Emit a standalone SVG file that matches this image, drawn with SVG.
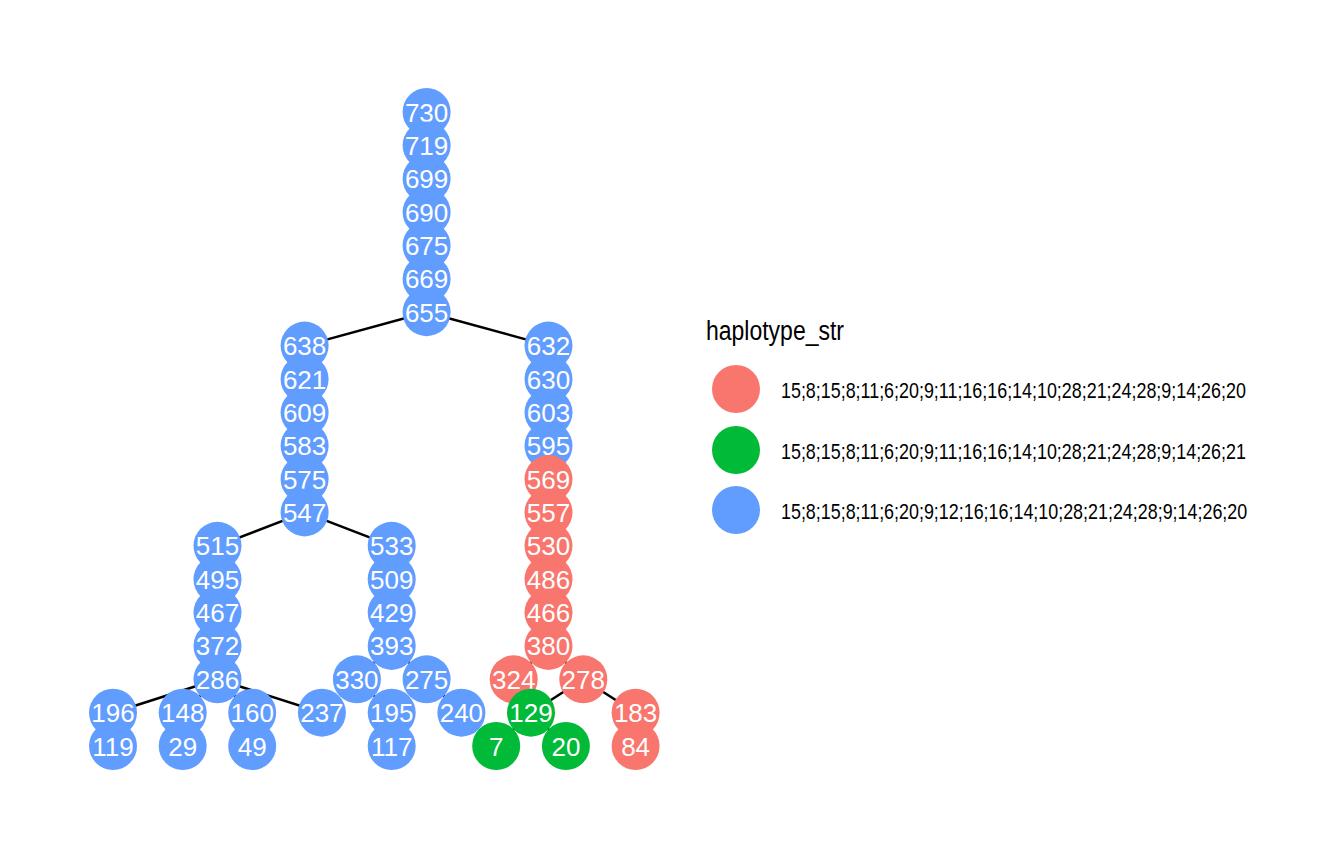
<svg xmlns="http://www.w3.org/2000/svg" width="1344" height="865" viewBox="0 0 1344 865">
<style>
.n{stroke:none}
.b{fill:#619CFF}.r{fill:#F8766D}.g{fill:#00BA38}
.t{fill:#FFFFFF;font-family:"Liberation Sans",Arial,sans-serif;font-size:26px;text-anchor:middle}
.e line{stroke:#000;stroke-width:2.5}
.lg{font-family:"Liberation Sans Narrow","Liberation Sans",Arial,sans-serif;fill:#000}
.li{font-family:"Liberation Sans",Arial,sans-serif;fill:#000;font-size:17.9px}
</style>
<rect width="1344" height="865" fill="#FFFFFF"/>
<g id="connectors" class="e">
<line x1="426.6" y1="112" x2="426.6" y2="312.2"/>
<line x1="426.6" y1="312.2" x2="304.6" y2="345.6"/>
<line x1="426.6" y1="312.2" x2="548.5" y2="345.6"/>
<line x1="304.6" y1="345.6" x2="304.6" y2="512.4"/>
<line x1="304.6" y1="512.4" x2="217.5" y2="545.8"/>
<line x1="304.6" y1="512.4" x2="391.7" y2="545.8"/>
<line x1="217.5" y1="545.8" x2="217.5" y2="679.3"/>
<line x1="217.5" y1="679.3" x2="113" y2="712.7"/>
<line x1="217.5" y1="679.3" x2="182.7" y2="712.7"/>
<line x1="217.5" y1="679.3" x2="252.2" y2="712.7"/>
<line x1="217.5" y1="679.3" x2="321.9" y2="712.7"/>
<line x1="113" y1="712.7" x2="113" y2="746"/>
<line x1="182.7" y1="712.7" x2="182.7" y2="746"/>
<line x1="252.2" y1="712.7" x2="252.2" y2="746"/>
<line x1="391.7" y1="545.8" x2="391.7" y2="645.9"/>
<line x1="391.7" y1="645.9" x2="356.9" y2="679.3"/>
<line x1="391.7" y1="645.9" x2="426.6" y2="679.3"/>
<line x1="356.9" y1="679.3" x2="391.7" y2="712.7"/>
<line x1="391.7" y1="712.7" x2="391.7" y2="746"/>
<line x1="426.6" y1="679.3" x2="461.4" y2="712.7"/>
<line x1="548.5" y1="345.6" x2="548.5" y2="645.9"/>
<line x1="548.5" y1="645.9" x2="513.7" y2="679.3"/>
<line x1="548.5" y1="645.9" x2="583.3" y2="679.3"/>
<line x1="583.3" y1="679.3" x2="531" y2="712.7"/>
<line x1="583.3" y1="679.3" x2="635.6" y2="712.7"/>
<line x1="635.6" y1="712.7" x2="635.6" y2="746"/>
<line x1="531" y1="712.7" x2="496.2" y2="746"/>
<line x1="531" y1="712.7" x2="565.9" y2="746"/>
</g>
<g id="n730"><circle class="n b" cx="426.6" cy="112" r="24"/><text class="t" x="426.6" y="121.5">730</text></g>
<g id="n719"><circle class="n b" cx="426.6" cy="145.4" r="24"/><text class="t" x="426.6" y="154.9">719</text></g>
<g id="n699"><circle class="n b" cx="426.6" cy="178.7" r="24"/><text class="t" x="426.6" y="188.2">699</text></g>
<g id="n690"><circle class="n b" cx="426.6" cy="212.1" r="24"/><text class="t" x="426.6" y="221.6">690</text></g>
<g id="n675"><circle class="n b" cx="426.6" cy="245.5" r="24"/><text class="t" x="426.6" y="255">675</text></g>
<g id="n669"><circle class="n b" cx="426.6" cy="278.9" r="24"/><text class="t" x="426.6" y="288.4">669</text></g>
<g id="n655"><circle class="n b" cx="426.6" cy="312.2" r="24"/><text class="t" x="426.6" y="321.7">655</text></g>
<g id="n638"><circle class="n b" cx="304.6" cy="345.6" r="24"/><text class="t" x="304.6" y="355.1">638</text></g>
<g id="n621"><circle class="n b" cx="304.6" cy="379" r="24"/><text class="t" x="304.6" y="388.5">621</text></g>
<g id="n609"><circle class="n b" cx="304.6" cy="412.4" r="24"/><text class="t" x="304.6" y="421.9">609</text></g>
<g id="n583"><circle class="n b" cx="304.6" cy="445.7" r="24"/><text class="t" x="304.6" y="455.2">583</text></g>
<g id="n575"><circle class="n b" cx="304.6" cy="479.1" r="24"/><text class="t" x="304.6" y="488.6">575</text></g>
<g id="n547"><circle class="n b" cx="304.6" cy="512.4" r="24"/><text class="t" x="304.6" y="521.9">547</text></g>
<g id="n632"><circle class="n b" cx="548.5" cy="345.6" r="24"/><text class="t" x="548.5" y="355.1">632</text></g>
<g id="n630"><circle class="n b" cx="548.5" cy="379" r="24"/><text class="t" x="548.5" y="388.5">630</text></g>
<g id="n603"><circle class="n b" cx="548.5" cy="412.4" r="24"/><text class="t" x="548.5" y="421.9">603</text></g>
<g id="n595"><circle class="n b" cx="548.5" cy="445.7" r="24"/><text class="t" x="548.5" y="455.2">595</text></g>
<g id="n569"><circle class="n r" cx="548.5" cy="479.1" r="24"/><text class="t" x="548.5" y="488.6">569</text></g>
<g id="n557"><circle class="n r" cx="548.5" cy="512.4" r="24"/><text class="t" x="548.5" y="521.9">557</text></g>
<g id="n515"><circle class="n b" cx="217.5" cy="545.8" r="24"/><text class="t" x="217.5" y="555.3">515</text></g>
<g id="n533"><circle class="n b" cx="391.7" cy="545.8" r="24"/><text class="t" x="391.7" y="555.3">533</text></g>
<g id="n530"><circle class="n r" cx="548.5" cy="545.8" r="24"/><text class="t" x="548.5" y="555.3">530</text></g>
<g id="n495"><circle class="n b" cx="217.5" cy="579.2" r="24"/><text class="t" x="217.5" y="588.7">495</text></g>
<g id="n509"><circle class="n b" cx="391.7" cy="579.2" r="24"/><text class="t" x="391.7" y="588.7">509</text></g>
<g id="n486"><circle class="n r" cx="548.5" cy="579.2" r="24"/><text class="t" x="548.5" y="588.7">486</text></g>
<g id="n467"><circle class="n b" cx="217.5" cy="612.5" r="24"/><text class="t" x="217.5" y="622">467</text></g>
<g id="n429"><circle class="n b" cx="391.7" cy="612.5" r="24"/><text class="t" x="391.7" y="622">429</text></g>
<g id="n466"><circle class="n r" cx="548.5" cy="612.5" r="24"/><text class="t" x="548.5" y="622">466</text></g>
<g id="n372"><circle class="n b" cx="217.5" cy="645.9" r="24"/><text class="t" x="217.5" y="655.4">372</text></g>
<g id="n393"><circle class="n b" cx="391.7" cy="645.9" r="24"/><text class="t" x="391.7" y="655.4">393</text></g>
<g id="n380"><circle class="n r" cx="548.5" cy="645.9" r="24"/><text class="t" x="548.5" y="655.4">380</text></g>
<g id="n286"><circle class="n b" cx="217.5" cy="679.3" r="24"/><text class="t" x="217.5" y="688.8">286</text></g>
<g id="n330"><circle class="n b" cx="356.9" cy="679.3" r="24"/><text class="t" x="356.9" y="688.8">330</text></g>
<g id="n275"><circle class="n b" cx="426.6" cy="679.3" r="24"/><text class="t" x="426.6" y="688.8">275</text></g>
<g id="n324"><circle class="n r" cx="513.7" cy="679.3" r="24"/><text class="t" x="513.7" y="688.8">324</text></g>
<g id="n278"><circle class="n r" cx="583.3" cy="679.3" r="24"/><text class="t" x="583.3" y="688.8">278</text></g>
<g id="n196"><circle class="n b" cx="113" cy="712.7" r="24"/><text class="t" x="113" y="722.2">196</text></g>
<g id="n148"><circle class="n b" cx="182.7" cy="712.7" r="24"/><text class="t" x="182.7" y="722.2">148</text></g>
<g id="n160"><circle class="n b" cx="252.2" cy="712.7" r="24"/><text class="t" x="252.2" y="722.2">160</text></g>
<g id="n237"><circle class="n b" cx="321.9" cy="712.7" r="24"/><text class="t" x="321.9" y="722.2">237</text></g>
<g id="n195"><circle class="n b" cx="391.7" cy="712.7" r="24"/><text class="t" x="391.7" y="722.2">195</text></g>
<g id="n240"><circle class="n b" cx="461.4" cy="712.7" r="24"/><text class="t" x="461.4" y="722.2">240</text></g>
<g id="n183"><circle class="n r" cx="635.6" cy="712.7" r="24"/><text class="t" x="635.6" y="722.2">183</text></g>
<g id="n119"><circle class="n b" cx="113" cy="746" r="24"/><text class="t" x="113" y="755.5">119</text></g>
<g id="n29"><circle class="n b" cx="182.7" cy="746" r="24"/><text class="t" x="182.7" y="755.5">29</text></g>
<g id="n49"><circle class="n b" cx="252.2" cy="746" r="24"/><text class="t" x="252.2" y="755.5">49</text></g>
<g id="n117"><circle class="n b" cx="391.7" cy="746" r="24"/><text class="t" x="391.7" y="755.5">117</text></g>
<g id="n84"><circle class="n r" cx="635.6" cy="746" r="24"/><text class="t" x="635.6" y="755.5">84</text></g>
<g id="n129"><circle class="n g" cx="531" cy="712.7" r="24"/><text class="t" x="531" y="722.2">129</text></g>
<g id="n7"><circle class="n g" cx="496.2" cy="746" r="24"/><text class="t" x="496.2" y="755.5">7</text></g>
<g id="n20"><circle class="n g" cx="565.9" cy="746" r="24"/><text class="t" x="565.9" y="755.5">20</text></g>
<g id="legend">
<text class="lg" x="706" y="340" font-size="27" textLength="138" lengthAdjust="spacingAndGlyphs">haplotype_str</text>
<circle class="r" cx="736" cy="389" r="24"/>
<circle class="g" cx="736" cy="450" r="24"/>
<circle class="b" cx="736" cy="510" r="24"/>
<text class="li" transform="translate(781,398) scale(1,1.28)">15;8;15;8;11;6;20;9;11;16;16;14;10;28;21;24;28;9;14;26;20</text>
<text class="li" transform="translate(781,459) scale(1,1.28)">15;8;15;8;11;6;20;9;11;16;16;14;10;28;21;24;28;9;14;26;21</text>
<text class="li" transform="translate(781,519) scale(1,1.28)">15;8;15;8;11;6;20;9;12;16;16;14;10;28;21;24;28;9;14;26;20</text>
</g>
</svg>
